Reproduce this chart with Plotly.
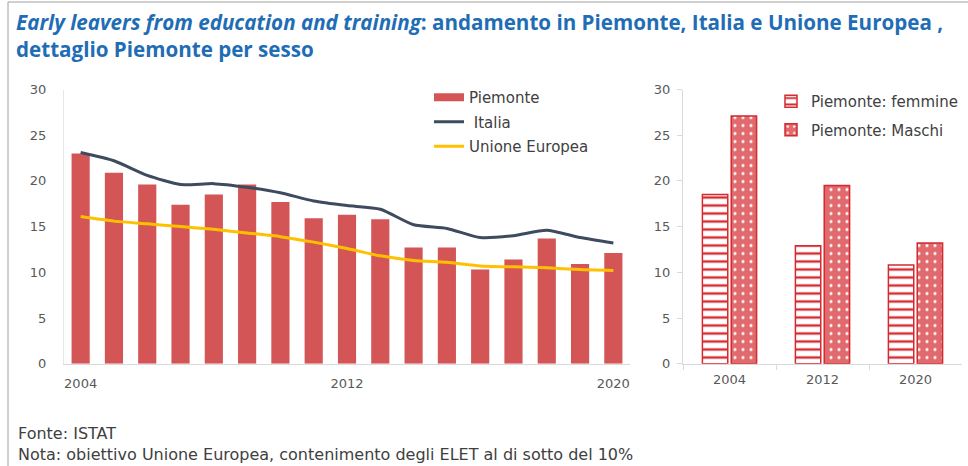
import plotly.graph_objects as go

# ---- data ----
years = list(range(2004, 2021))
piemonte = [23.0, 20.9, 19.6, 17.4, 18.5, 19.6, 17.7, 15.9, 16.3, 15.8, 12.7, 12.7, 10.3, 11.4, 13.7, 10.9, 12.1]
italia = [23.1, 22.2, 20.6, 19.6, 19.7, 19.3, 18.7, 17.8, 17.3, 16.9, 15.2, 14.8, 13.8, 14.0, 14.6, 13.8, 13.2]
ue = [16.1, 15.6, 15.3, 15.0, 14.7, 14.3, 13.9, 13.3, 12.6, 11.8, 11.3, 11.1, 10.7, 10.6, 10.5, 10.3, 10.2]

sex_years = ["2004", "2012", "2020"]
femmine = [18.5, 12.9, 10.8]
maschi = [27.1, 19.5, 13.2]

left_ticks = [2004, 2012, 2020]
y_ticks = [0, 5, 10, 15, 20, 25, 30]

W, H = 968, 466
def px(x):
    return x / W
def py(y):
    return 1 - y / H

RED = "#d45556"
DARK = "#3e4a5e"
GOLD = "#ffc000"
TXT = "#595959"
FONT = "DejaVu Sans"

fig = go.Figure()

fig.add_trace(go.Bar(x=years, y=piemonte, name="Piemonte", marker=dict(color=RED, line=dict(width=0)),
                     xaxis="x", yaxis="y", showlegend=False, legendgroup="a"))
# legend entry for the bars, drawn as a wide red patch like the original
fig.add_trace(go.Scatter(x=[None], y=[None], name="Piemonte", mode="lines",
                         line=dict(color=RED, width=8), hoverinfo="skip",
                         xaxis="x", yaxis="y", legend="legend", legendgroup="a"))
fig.add_trace(go.Scatter(x=years, y=italia, name=" Italia", mode="lines",
                         line=dict(color=DARK, width=3, shape="spline", smoothing=0.6),
                         xaxis="x", yaxis="y", legend="legend", legendgroup="b"))
fig.add_trace(go.Scatter(x=years, y=ue, name="Unione Europea", mode="lines",
                         line=dict(color=GOLD, width=3, shape="spline", smoothing=0.6),
                         xaxis="x", yaxis="y", legend="legend", legendgroup="c"))

fig.add_trace(go.Bar(x=sex_years, y=femmine, name="Piemonte: femmine",
                     marker=dict(color="white", line=dict(color="#d42a30", width=1.5),
                                 pattern=dict(shape="-", fgcolor="#d42a30", bgcolor="white",
                                              size=8, solidity=0.3, fillmode="replace")),
                     xaxis="x2", yaxis="y2", legend="legend2", legendgroup="d"))
fig.add_trace(go.Bar(x=sex_years, y=maschi, name="Piemonte: Maschi",
                     marker=dict(color="#e06a6d", line=dict(color="#d42a30", width=1.5),
                                 pattern=dict(shape=".", fgcolor="white", bgcolor="#e06a6d",
                                              size=8, solidity=0.12, fillmode="replace")),
                     xaxis="x2", yaxis="y2", legend="legend2", legendgroup="e"))

ydom = [py(363.7), py(89.5)]
axis_font = dict(family=FONT, size=13, color=TXT)

fig.update_layout(
    width=W, height=H,
    margin=dict(l=0, r=0, t=0, b=0, autoexpand=False),
    paper_bgcolor="white", plot_bgcolor="white",
    barmode="group",
    bargap=0.38,
    bargroupgap=0.12,
    font=dict(family=FONT, color=TXT),
    hovermode=False,
    xaxis=dict(domain=[px(64), px(630)], range=[2003.5, 2020.5], tickvals=left_ticks,
               ticktext=[str(t) for t in left_ticks], showgrid=False, zeroline=False,
               showline=True, linecolor="#d9d9d9", linewidth=1, ticks="", ticklabelstandoff=8,
               tickfont=axis_font, fixedrange=True, automargin=False),
    yaxis=dict(domain=ydom, range=[0, 30], tickvals=y_ticks, showgrid=False, zeroline=False,
               showline=True, linecolor="#e6e6e6", linewidth=1, ticks="", ticklabelstandoff=14,
               tickfont=axis_font, automargin=False),
    xaxis2=dict(domain=[px(683), px(962)], type="category", showgrid=False, zeroline=False,
                showline=True, linecolor="#d9d9d9", linewidth=1, ticks="outside", tickson="boundaries",
                ticklen=5, tickcolor="#d9d9d9", ticklabelstandoff=4, tickfont=axis_font, anchor="y2",
                automargin=False),
    yaxis2=dict(domain=ydom, range=[0, 30], tickvals=y_ticks, showgrid=False, zeroline=False,
                showline=True, linecolor="#d9d9d9", linewidth=1, ticks="outside", ticklen=5,
                tickcolor="#d9d9d9", ticklabelstandoff=4, tickfont=axis_font, anchor="x2",
                automargin=False),
    legend=dict(x=px(429), y=py(81), xanchor="left", yanchor="top", bgcolor="rgba(0,0,0,0)",
                font=dict(family=FONT, size=15, color="#404040"), itemwidth=30, tracegroupgap=2,
                traceorder="grouped"),
    legend2=dict(x=px(771), y=py(85), xanchor="left", yanchor="top", bgcolor="rgba(0,0,0,0)",
                 font=dict(family=FONT, size=15, color="#404040"), itemwidth=30, tracegroupgap=6,
                 traceorder="grouped"),
    showlegend=True,
)

# frame
fig.add_shape(type="line", xref="paper", yref="paper", x0=px(8), x1=1, y0=py(2), y1=py(2),
              line=dict(color="#a0a0a0", width=1))
fig.add_shape(type="line", xref="paper", yref="paper", x0=px(8), x1=px(8), y0=py(2), y1=0,
              line=dict(color="#a0a0a0", width=1))

TITLE = "#1f6db5"
fig.add_annotation(xref="paper", yref="paper", x=px(14), y=py(6), xanchor="left", yanchor="top",
                   align="left", showarrow=False,
                   text="<b><i>Early leavers from education and training</i>: andamento in Piemonte, Italia e Unione Europea ,<br>dettaglio Piemonte per sesso</b>",
                   font=dict(family="Open Sans", size=20.6, color=TITLE))

fig.add_annotation(xref="paper", yref="paper", x=px(16), y=py(433), xanchor="left", yanchor="middle",
                   showarrow=False, text="Fonte: ISTAT", font=dict(family=FONT, size=16, color="#404040"))
fig.add_annotation(xref="paper", yref="paper", x=px(16), y=py(454), xanchor="left", yanchor="middle",
                   showarrow=False, text="Nota: obiettivo Unione Europea, contenimento degli ELET al di sotto del 10%",
                   font=dict(family=FONT, size=16, color="#404040"))

fig.write_html("out.html", config={"displayModeBar": False},
               post_script="document.body.style.margin='0';")
